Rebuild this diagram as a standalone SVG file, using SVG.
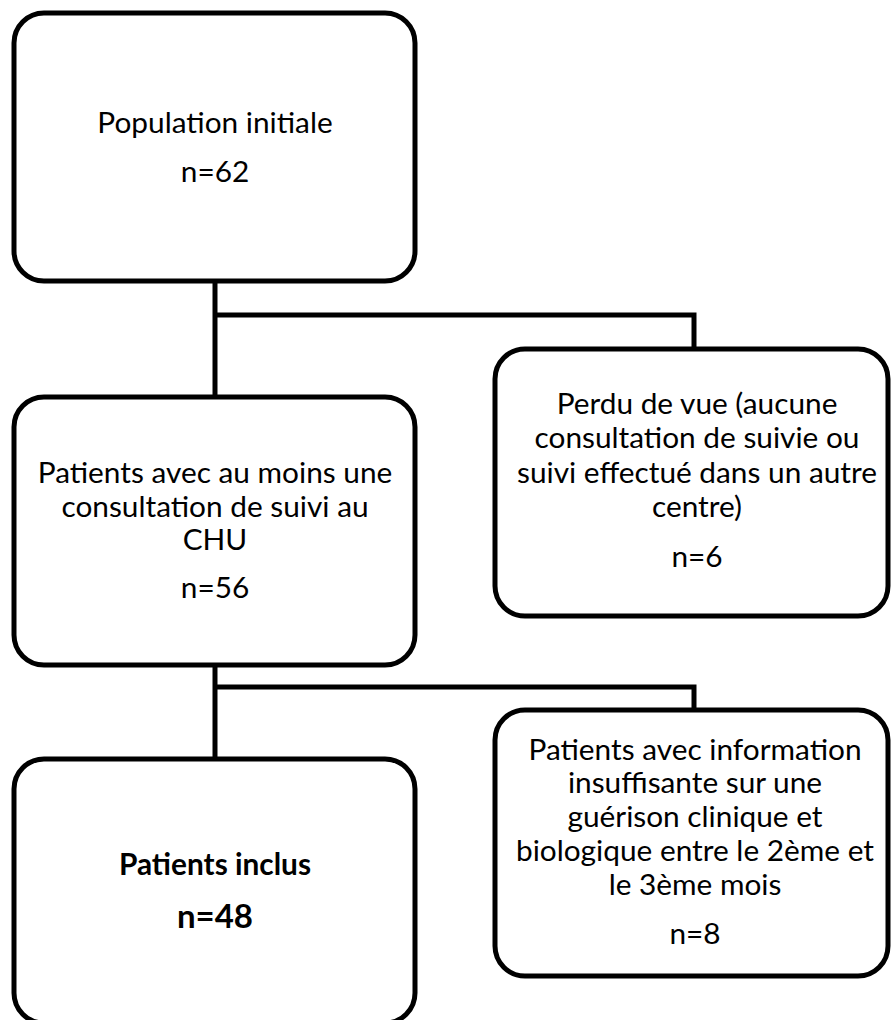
<svg xmlns="http://www.w3.org/2000/svg" width="891" height="1020" viewBox="0 0 891 1020">
<style>
.box{fill:#fff;stroke:#000;stroke-width:5}
.con{fill:none;stroke:#000;stroke-width:5}
text{font-family:Lato,"Liberation Sans",sans-serif;font-size:29.8px;fill:#000;text-anchor:middle}
.b{font-weight:bold}
</style>
<rect width="891" height="1020" fill="#fff"/>
<g id="connectors">
<polyline class="con" points="215,281 215,397"/>
<polyline class="con" points="215,315 694,315 694,349"/>
<polyline class="con" points="215,665 215,759"/>
<polyline class="con" points="215,687 694,687 694,710"/>
</g>
<g id="n1">
<rect class="box" x="14" y="13" width="401" height="268" rx="30"/>
<text x="215" y="133">Population initiale</text>
<text x="215" y="182">n=62</text>
</g>
<g id="n2">
<rect class="box" x="14" y="397" width="401" height="268" rx="30"/>
<text x="215" y="483">Patients avec au moins une</text>
<text x="215" y="517">consultation de suivi au</text>
<text x="215" y="550">CHU</text>
<text x="215" y="598">n=56</text>
</g>
<g id="n3">
<rect class="box" x="495" y="349" width="393" height="267" rx="30"/>
<text x="697" y="414">Perdu de vue (aucune</text>
<text x="697" y="448">consultation de suivie ou</text>
<text x="697" y="483">suivi effectué dans un autre</text>
<text x="697" y="517">centre)</text>
<text x="697" y="567">n=6</text>
</g>
<g id="n4">
<rect class="box" x="14" y="759" width="401" height="264" rx="30"/>
<text class="b" x="215" y="875">Patients inclus</text>
<text class="b" x="215" y="928" style="font-size:33px">n=48</text>
</g>
<g id="n5">
<rect class="box" x="495" y="710" width="393" height="266" rx="30"/>
<text x="695" y="760">Patients avec information</text>
<text x="695" y="793">insuffisante sur une</text>
<text x="695" y="827">guérison clinique et</text>
<text x="695" y="861">biologique entre le 2ème et</text>
<text x="695" y="895">le 3ème mois</text>
<text x="695" y="944">n=8</text>
</g>
</svg>
